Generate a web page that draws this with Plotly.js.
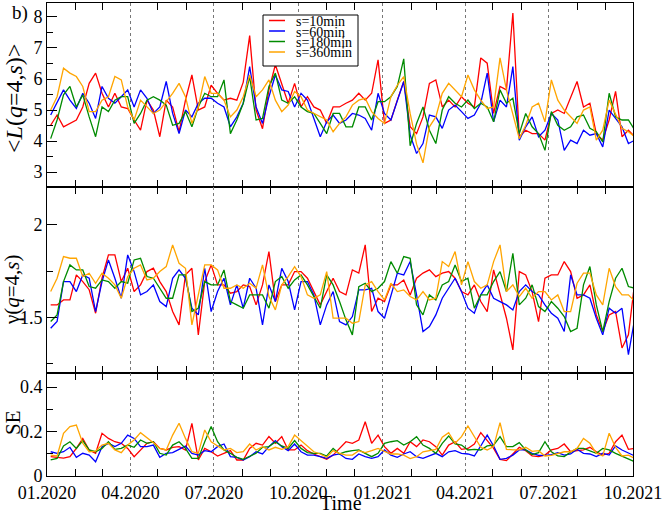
<!DOCTYPE html>
<html><head><meta charset="utf-8">
<script src="https://cdn.plot.ly/plotly-3.0.1.min.js"></script>
<style>html,body{margin:0;padding:0;background:#fff}#chart{width:664px;height:513px}</style>
</head><body><div id="chart"></div>
<script>
// ---- data ----
const startDate = [2020, 0, 5];   // first sample (weekly samples)
const stepDays = 7;
const seriesNames = ['s=10min', 's=60min', 's=180min', 's=360min'];
const seriesColors = ['#ff0000', '#0000ff', '#008b00', '#ffa500'];
const panelTitles = ['&lt;<i>L</i>(<i>q</i>=4,<i>s</i>)&gt;', 'γ(<i>q</i>=4,<i>s</i>)', 'SE'];
const xTitle = 'Time';
const panelLabel = 'b)';

// top panel: <L(q=4,s)>
const L_10 = [4.51,4.84,4.46,4.57,4.68,5.1,5.86,6.19,5.54,5.1,5.54,5.1,5.05,4.68,4.35,5.32,5.0,4.14,5.32,5.1,4.3,5.32,6.13,5.0,5.1,5.8,5.54,5.32,5.38,5.32,5.9,7.4,5.0,4.4,5.65,6.46,5.86,5.22,5.86,5.1,5.43,5.1,5.0,4.57,5.1,5.1,
  5.22,5.32,5.54,5.32,5.54,6.62,4.57,4.68,5.32,5.92,4.46,4.24,4.78,5.86,5.97,5.1,5.32,5.1,5.43,5.22,5.1,6.68,6.51,4.89,5.76,5.65,8.13,4.14,4.35,4.24,4.24,4.03,4.89,5.0,4.89,5.43,5.92,5.1,5.22,4.24,4.03,4.68,5.6,4.14,4.35,4.14];
const L_60 = [4.84,5.22,5.65,5.32,5.05,5.54,5.22,4.73,5.76,5.38,5.22,5.43,5.65,5.1,5.65,5.38,4.89,5.1,5.92,4.89,4.24,5.0,4.78,5.22,5.38,5.38,5.22,5.1,4.46,4.78,5.22,6.4,5.1,4.57,5.43,6.13,5.65,5.6,5.1,5.54,5.32,4.73,4.14,4.62,4.84,4.57,
  4.68,4.89,4.84,4.73,4.35,5.54,4.89,4.68,5.27,5.92,4.2,3.6,3.92,4.84,4.78,4.41,5.0,5.16,4.95,4.73,4.84,5.22,6.19,4.62,5.32,5.1,6.4,4.03,4.46,4.78,4.14,4.35,4.89,4.68,3.7,4.03,3.92,4.35,4.19,4.24,3.81,5.0,4.73,4.46,3.92,4.03];
const L_180 = [4.08,4.68,5.49,5.76,5.1,5.49,4.78,4.14,5.1,4.95,5.32,5.43,5.43,4.57,4.89,5.32,5.43,5.32,5.16,4.51,4.57,4.95,4.46,5.1,5.54,5.43,5.43,5.97,4.24,4.68,5.22,6.08,4.68,4.73,5.76,6.19,5.32,5.22,5.43,5.1,4.95,4.89,4.57,4.24,4.89,4.89,
  4.46,4.46,5.1,5.1,4.68,5.27,5.27,5.43,5.76,6.65,3.85,4.57,5.1,4.35,3.92,5.0,5.43,5.22,5.1,5.32,5.05,5.22,5.1,4.62,5.65,5.22,5.38,4.24,4.89,4.46,4.24,3.7,4.95,4.51,4.35,4.46,4.78,4.84,4.41,4.3,3.97,5.54,4.78,4.68,4.68,4.35];
const L_360 = [5.0,5.43,6.35,6.19,6.08,5.76,4.95,4.95,5.32,5.43,6.08,5.97,5.1,4.68,5.32,5.1,4.89,5.0,5.27,5.54,5.86,5.43,4.57,5.1,6.08,5.54,5.54,5.32,4.78,5.0,5.43,6.13,5.43,5.65,5.97,5.32,4.95,5.16,5.6,5.43,5.0,4.89,4.78,4.68,4.3,4.57,
  4.78,5.16,5.32,5.38,4.95,4.73,4.57,5.43,5.8,6.08,4.89,3.9,3.3,4.46,4.78,5.54,5.86,5.65,5.43,6.13,5.65,5.32,5.05,5.1,6.68,5.65,4.89,4.08,4.51,5.1,5.22,4.62,5.97,5.32,5.0,4.78,4.57,5.0,5.1,4.03,4.35,5.32,4.89,4.41,4.3,4.14];

// middle panel: gamma(q=4,s)
const G_10 = [1.568,1.568,1.595,1.595,1.73,1.694,1.65,1.523,1.712,1.838,1.838,1.694,1.766,1.64,1.676,1.748,1.766,1.694,1.64,1.532,1.46,1.73,1.766,1.406,1.694,1.784,1.676,1.676,1.631,1.64,1.676,1.667,1.568,1.676,1.856,1.586,1.676,1.676,1.748,1.748,1.712,1.64,1.568,1.64,1.712,1.64,
  1.622,1.757,1.74,1.892,1.532,1.604,1.586,1.676,1.676,1.703,1.622,1.712,1.74,1.757,1.721,1.74,1.748,1.712,1.64,1.622,1.676,1.586,1.532,1.757,1.622,1.496,1.325,1.748,1.73,1.64,1.478,1.712,1.73,1.73,1.802,1.748,1.604,1.622,1.676,1.514,1.424,1.514,1.532,1.335,1.406,1.694];
const G_60 = [1.442,1.478,1.694,1.694,1.64,1.73,1.712,1.532,1.694,1.811,1.712,1.604,1.838,1.748,1.622,1.64,1.676,1.586,1.559,1.712,1.757,1.712,1.55,1.514,1.766,1.532,1.64,1.712,1.568,1.676,1.55,1.712,1.658,1.46,1.676,1.586,1.766,1.694,1.541,1.694,1.694,1.622,1.46,1.568,1.64,1.478,
  1.46,1.505,1.649,1.649,1.658,1.532,1.496,1.613,1.739,1.73,1.802,1.622,1.424,1.451,1.514,1.604,1.658,1.712,1.64,1.55,1.523,1.622,1.676,1.604,1.586,1.568,1.541,1.64,1.676,1.64,1.622,1.568,1.523,1.496,1.424,1.73,1.622,1.622,1.604,1.496,1.406,1.55,1.523,1.55,1.299,1.496];
const G_180 = [1.478,1.514,1.694,1.784,1.757,1.757,1.667,1.658,1.703,1.694,1.658,1.694,1.685,1.811,1.82,1.721,1.712,1.658,1.604,1.604,1.73,1.73,1.532,1.55,1.694,1.676,1.676,1.757,1.586,1.568,1.55,1.622,1.622,1.622,1.55,1.694,1.721,1.658,1.703,1.73,1.676,1.613,1.55,1.73,1.676,1.586,
  1.487,1.406,1.667,1.685,1.64,1.658,1.694,1.802,1.739,1.829,1.82,1.568,1.514,1.622,1.595,1.676,1.694,1.784,1.694,1.712,1.55,1.622,1.622,1.694,1.748,1.64,1.847,1.568,1.604,1.676,1.559,1.532,1.586,1.55,1.505,1.424,1.442,1.676,1.775,1.568,1.424,1.586,1.712,1.766,1.667,1.658];
const G_360 = [1.64,1.712,1.829,1.82,1.82,1.721,1.739,1.685,1.739,1.712,1.676,1.604,1.721,1.766,1.784,1.703,1.712,1.748,1.775,1.892,1.793,1.766,1.46,1.622,1.784,1.784,1.757,1.658,1.658,1.676,1.658,1.685,1.658,1.784,1.613,1.541,1.676,1.721,1.775,1.721,1.622,1.604,1.622,1.748,1.496,1.496,
  1.496,1.469,1.478,1.676,1.694,1.64,1.595,1.685,1.64,1.649,1.613,1.595,1.64,1.595,1.604,1.802,1.775,1.856,1.676,1.802,1.694,1.658,1.676,1.802,1.892,1.64,1.676,1.613,1.658,1.604,1.64,1.64,1.595,1.622,1.532,1.532,1.685,1.74,1.74,1.622,1.568,1.766,1.667,1.622,1.622,1.586];

// bottom panel: SE
const SE_10 = [0.087,0.084,0.08,0.087,0.124,0.169,0.117,0.102,0.192,0.169,0.154,0.147,0.124,0.087,0.117,0.147,0.154,0.124,0.117,0.129,0.132,0.117,0.237,0.072,
  0.124,0.109,0.09,0.102,0.114,0.072,0.072,0.124,0.147,0.139,0.177,0.147,0.177,0.117,0.117,0.139,0.114,0.099,0.087,0.075,0.094,0.124,0.154,0.147,0.162,0.244,0.147,0.184,0.132,0.102,0.124,0.102,0.154,0.132,0.162,0.154,0.132,0.094,0.139,0.154,
  0.12,0.124,0.144,0.195,0.159,0.124,0.075,0.069,0.099,0.129,0.114,0.09,0.087,0.094,0.117,0.124,0.144,0.109,0.114,0.117,0.129,0.109,0.094,0.102,0.154,0.184,0.12,0.124];
const SE_60 = [0.109,0.102,0.109,0.129,0.084,0.102,0.094,0.064,0.132,0.147,0.132,0.147,0.184,0.169,0.132,0.132,0.139,0.084,0.102,0.105,0.12,0.135,0.102,0.094,
  0.114,0.109,0.132,0.144,0.087,0.084,0.072,0.087,0.109,0.099,0.132,0.159,0.132,0.114,0.144,0.109,0.094,0.094,0.087,0.079,0.094,0.099,0.079,0.075,0.099,0.087,0.079,0.087,0.117,0.094,0.084,0.099,0.109,0.087,0.079,0.09,0.102,0.087,0.109,0.114,
  0.102,0.099,0.09,0.135,0.184,0.135,0.075,0.079,0.094,0.117,0.117,0.102,0.093,0.093,0.096,0.105,0.094,0.099,0.12,0.102,0.099,0.087,0.102,0.094,0.135,0.117,0.102,0.09];
const SE_180 = [0.072,0.079,0.135,0.154,0.124,0.159,0.117,0.109,0.124,0.154,0.12,0.124,0.139,0.129,0.162,0.147,0.154,0.102,0.094,0.139,0.154,0.124,0.079,0.079,
  0.154,0.222,0.154,0.117,0.102,0.084,0.075,0.09,0.102,0.129,0.132,0.153,0.135,0.124,0.159,0.124,0.105,0.102,0.102,0.09,0.124,0.099,0.109,0.114,0.117,0.102,0.087,0.102,0.147,0.154,0.159,0.139,0.154,0.177,0.139,0.124,0.102,0.147,0.18,0.144,
  0.139,0.117,0.12,0.117,0.135,0.139,0.177,0.132,0.132,0.15,0.117,0.096,0.105,0.154,0.109,0.09,0.087,0.108,0.124,0.124,0.114,0.102,0.124,0.117,0.102,0.09,0.075,0.064];
const SE_360 = [0.094,0.09,0.192,0.222,0.229,0.147,0.109,0.112,0.139,0.147,0.117,0.105,0.139,0.162,0.195,0.174,0.15,0.124,0.117,0.184,0.237,0.169,0.109,0.102,
  0.207,0.154,0.135,0.117,0.124,0.105,0.109,0.144,0.117,0.132,0.117,0.129,0.12,0.132,0.184,0.159,0.132,0.109,0.099,0.084,0.114,0.102,0.094,0.094,0.114,0.105,0.114,0.124,0.111,0.099,0.099,0.094,0.078,0.087,0.109,0.114,0.12,0.174,0.195,0.147,
  0.177,0.225,0.177,0.129,0.117,0.132,0.24,0.12,0.117,0.117,0.129,0.111,0.114,0.09,0.093,0.102,0.109,0.109,0.124,0.169,0.147,0.102,0.09,0.192,0.129,0.09,0.094,0.079];

// ---- build ----
function pad(n){return (n<10?'0':'')+n;}
const dates = L_10.map((_, i) => {
  const d = new Date(Date.UTC(startDate[0], startDate[1], startDate[2] + stepDays * i));
  return d.getUTCFullYear() + '-' + pad(d.getUTCMonth() + 1) + '-' + pad(d.getUTCDate());
});

const panels = [
  {xa: 'x',  ya: 'y',  series: [L_10, L_60, L_180, L_360]},
  {xa: 'x2', ya: 'y2', series: [G_10, G_60, G_180, G_360]},
  {xa: 'x3', ya: 'y3', series: [SE_10, SE_60, SE_180, SE_360]}
];

const traces = [];
panels.forEach(p => {
  p.series.forEach((vals, k) => {
    traces.push({
      type: 'scatter', mode: 'lines', x: dates, y: vals,
      xaxis: p.xa, yaxis: p.ya, name: seriesNames[k], showlegend: false,
      line: {color: seriesColors[k], width: 1.3}, hoverinfo: 'skip'
    });
  });
});

const FONT = 'Liberation Serif, Times New Roman, serif';
const PL = 47, PR = 633, PT = 3, PB = 476, W = 664, H = 513;
const px2x = px => (px - PL) / (PR - PL);
const py2y = py => (PB - py) / (PB - PT);

function xAxis(anchor, labels) {
  return {
    type: 'date', range: ['2020-01-01', '2021-10-01'], anchor: anchor,
    tick0: '2020-01-01', dtick: 'M3', tickformat: '%m.%Y',
    ticks: '', showgrid: true, gridcolor: '#777', griddash: 'dot', gridwidth: 1,
    minor: {dtick: 'M1', tick0: '2020-01-01', ticks: 'inside', ticklen: 7, tickcolor: '#000', tickwidth: 1, showgrid: false},
    showline: true, linecolor: '#000', linewidth: 1, mirror: 'allticks', zeroline: false,
    showticklabels: labels, tickfont: {family: FONT, size: 18, color: '#000'}
  };
}
function yAxis(domain, range, dtick, minorDtick, anchor) {
  return {
    domain: domain, range: range, anchor: anchor, dtick: dtick, tick0: 0,
    ticks: 'inside', ticklen: 10, tickcolor: '#000', tickwidth: 1,
    minor: {dtick: minorDtick, tick0: 0, ticks: 'inside', ticklen: 6, tickcolor: '#000', tickwidth: 1, showgrid: false},
    showline: true, linecolor: '#000', linewidth: 1, mirror: true, zeroline: false, showgrid: false,
    tickfont: {family: FONT, size: 18, color: '#000'}
  };
}

const d1 = py2y(187), d2 = py2y(373);
const layout = {
  width: W, height: H, margin: {l: PL, r: W - PR, t: PT, b: H - PB},
  paper_bgcolor: '#fff', plot_bgcolor: '#fff', showlegend: false,
  font: {family: FONT, color: '#000'},
  xaxis: xAxis('y', false),
  xaxis2: xAxis('y2', false),
  xaxis3: xAxis('y3', true),
  yaxis: yAxis([d1, 1], [2.52, 8.45], 1, 0.5, 'x'),
  yaxis2: yAxis([d2, d1], [1.2, 2.205], 0.5, 0.25, 'x2'),
  yaxis3: yAxis([0, d2], [0, 0.463], 0.2, 0.1, 'x3'),
  shapes: [], annotations: []
};

// axis titles
const titleY = [99, 290, 423], titleX = [14, 12, 13], titleSize = [24, 21, 21];
panelTitles.forEach((t, i) => {
  layout.annotations.push({xref: 'paper', yref: 'paper', x: px2x(titleX[i]), y: py2y(titleY[i]),
    text: t, textangle: -90, showarrow: false, xanchor: 'center', yanchor: 'middle',
    font: {family: FONT, size: titleSize[i], color: '#000'}});
});
layout.annotations.push({xref: 'paper', yref: 'paper', x: px2x(341), y: py2y(503), text: xTitle,
  showarrow: false, xanchor: 'center', yanchor: 'middle', font: {family: FONT, size: 20, color: '#000'}});
layout.annotations.push({xref: 'paper', yref: 'paper', x: px2x(20), y: py2y(13), text: panelLabel,
  showarrow: false, xanchor: 'center', yanchor: 'middle', font: {family: FONT, size: 19, color: '#000'}});

// legend box
layout.shapes.push({type: 'rect', xref: 'paper', yref: 'paper', x0: px2x(263), x1: px2x(358), y0: py2y(66), y1: py2y(15),
  line: {color: '#000', width: 1}, fillcolor: '#fff', layer: 'above'});
const rowY = [20.5, 31, 41.5, 52];
seriesNames.forEach((n, k) => {
  layout.shapes.push({type: 'line', xref: 'paper', yref: 'paper', x0: px2x(269), x1: px2x(285), y0: py2y(rowY[k]), y1: py2y(rowY[k]),
    line: {color: seriesColors[k], width: 1.5}, layer: 'above'});
  layout.annotations.push({xref: 'paper', yref: 'paper', x: px2x(294), y: py2y(rowY[k] + 1), text: n, showarrow: false,
    xanchor: 'left', yanchor: 'middle', font: {family: FONT, size: 14, color: '#000'}});
});

Plotly.newPlot('chart', traces, layout, {staticPlot: true, displayModeBar: false});
</script>
</body></html>
